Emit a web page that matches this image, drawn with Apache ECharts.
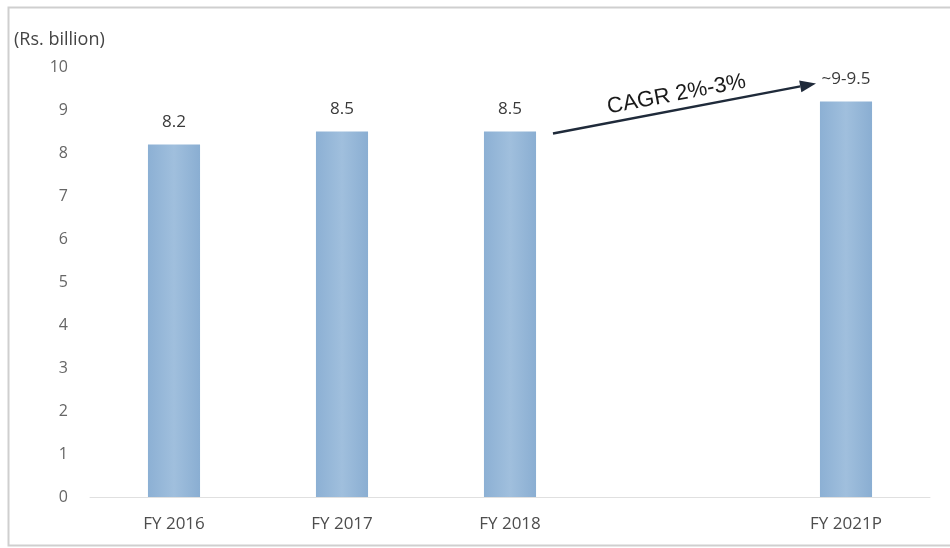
<!DOCTYPE html>
<html>
<head>
<meta charset="utf-8">
<script src="https://cdn.jsdelivr.net/npm/echarts@6/dist/echarts.min.js"></script>
<style>
  html, body { margin: 0; padding: 0; background: #ffffff; }
  #chart { width: 950px; height: 548px; }
</style>
</head>
<body>
<div id="chart"></div>
<script>
// Fiscal years on the category axis; the blank slot keeps the gap before the projection
var categories = ['FY 2016', 'FY 2017', 'FY 2018', '', 'FY 2021P'];
// Market size in Rs. billion (projection shown at 9.2 within the ~9-9.5 range)
var values = [8.2, 8.5, 8.5, null, 9.2];
// Text shown above each bar
var barLabels = ['8.2', '8.5', '8.5', '', '~9-9.5'];
var yTicks = [0, 1, 2, 3, 4, 5, 6, 7, 8, 9, 10];
var unitLabel = '(Rs. billion)';
var cagrText = 'CAGR 2%-3%';

var chart = echarts.init(document.getElementById('chart'), null, { renderer: 'canvas' });

var baseFont = '"Open Sans", "Liberation Sans", sans-serif';

var barColor = {
  type: 'linear', x: 0, y: 0, x2: 1, y2: 0,
  colorStops: [
    { offset: 0, color: '#8cb0d4' },
    { offset: 0.5, color: '#a0bfdd' },
    { offset: 1, color: '#8aaed2' }
  ]
};

chart.setOption({
  animation: false,
  backgroundColor: '#ffffff',
  grid: { left: 90, right: 20, top: 67, bottom: 51 },
  xAxis: {
    type: 'category',
    data: categories,
    axisLine: { show: true, lineStyle: { color: '#e0e0e0', width: 1 } },
    axisTick: { show: false },
    axisLabel: {
      color: '#4d4d4d',
      fontFamily: baseFont,
      fontSize: 17,
      margin: 19
    }
  },
  yAxis: {
    type: 'value',
    min: yTicks[0],
    max: yTicks[yTicks.length - 1],
    interval: 1,
    axisLine: { show: false },
    axisTick: { show: false },
    splitLine: { show: false },
    axisLabel: {
      color: '#666666',
      fontFamily: baseFont,
      fontSize: 16,
      margin: 22
    }
  },
  series: [{
    type: 'bar',
    data: values,
    barWidth: '31%',
    itemStyle: { color: barColor },
    label: {
      show: true,
      position: 'top',
      distance: 14,
      color: '#3a3a3a',
      fontFamily: baseFont,
      fontSize: 17,
      formatter: function (p) { return barLabels[p.dataIndex]; }
    }
  }]
});

// Annotation: frame, unit caption and the CAGR arrow anchored to the FY 2018 and FY 2021P bars
var from = chart.convertToPixel({ seriesIndex: 0 }, [categories[2], values[2]]);
var to = chart.convertToPixel({ seriesIndex: 0 }, [categories[4], values[4]]);
var x1 = from[0] + 43, y1 = from[1] + 2;
var x2 = to[0] - 30, y2 = to[1] - 18;
var ang = Math.atan2(y1 - y2, x2 - x1);
var head = 16, halfW = 6;
var ux = Math.cos(ang), uy = -Math.sin(ang);
var bx = x2 - ux * head, by = y2 - uy * head;
var px = -uy, py = ux;

chart.setOption({
  graphic: [
    {
      type: 'rect',
      shape: { x: 8.5, y: 7.5, width: 960, height: 538 },
      style: { fill: 'none', stroke: '#cfcfcf', lineWidth: 2 },
      silent: true
    },
    {
      type: 'text',
      left: 14,
      top: 31,
      style: {
        text: unitLabel,
        fill: '#444444',
        font: '18px ' + baseFont
      }
    },
    {
      type: 'line',
      shape: { x1: x1, y1: y1, x2: bx, y2: by },
      style: { stroke: '#1f2a3a', lineWidth: 2.5 }
    },
    {
      type: 'polygon',
      shape: { points: [[x2, y2], [bx + px * halfW, by + py * halfW], [bx - px * halfW, by - py * halfW]] },
      style: { fill: '#1f2a3a' }
    },
    {
      type: 'text',
      x: (x1 + x2) / 2 - 8,
      y: (y1 + y2) / 2 - 14,
      rotation: ang,
      style: {
        text: cagrText,
        fill: '#1a1a1a',
        font: '22px "Liberation Sans", Arial, sans-serif',
        align: 'center',
        verticalAlign: 'middle'
      }
    }
  ]
});
</script>
</body>
</html>
